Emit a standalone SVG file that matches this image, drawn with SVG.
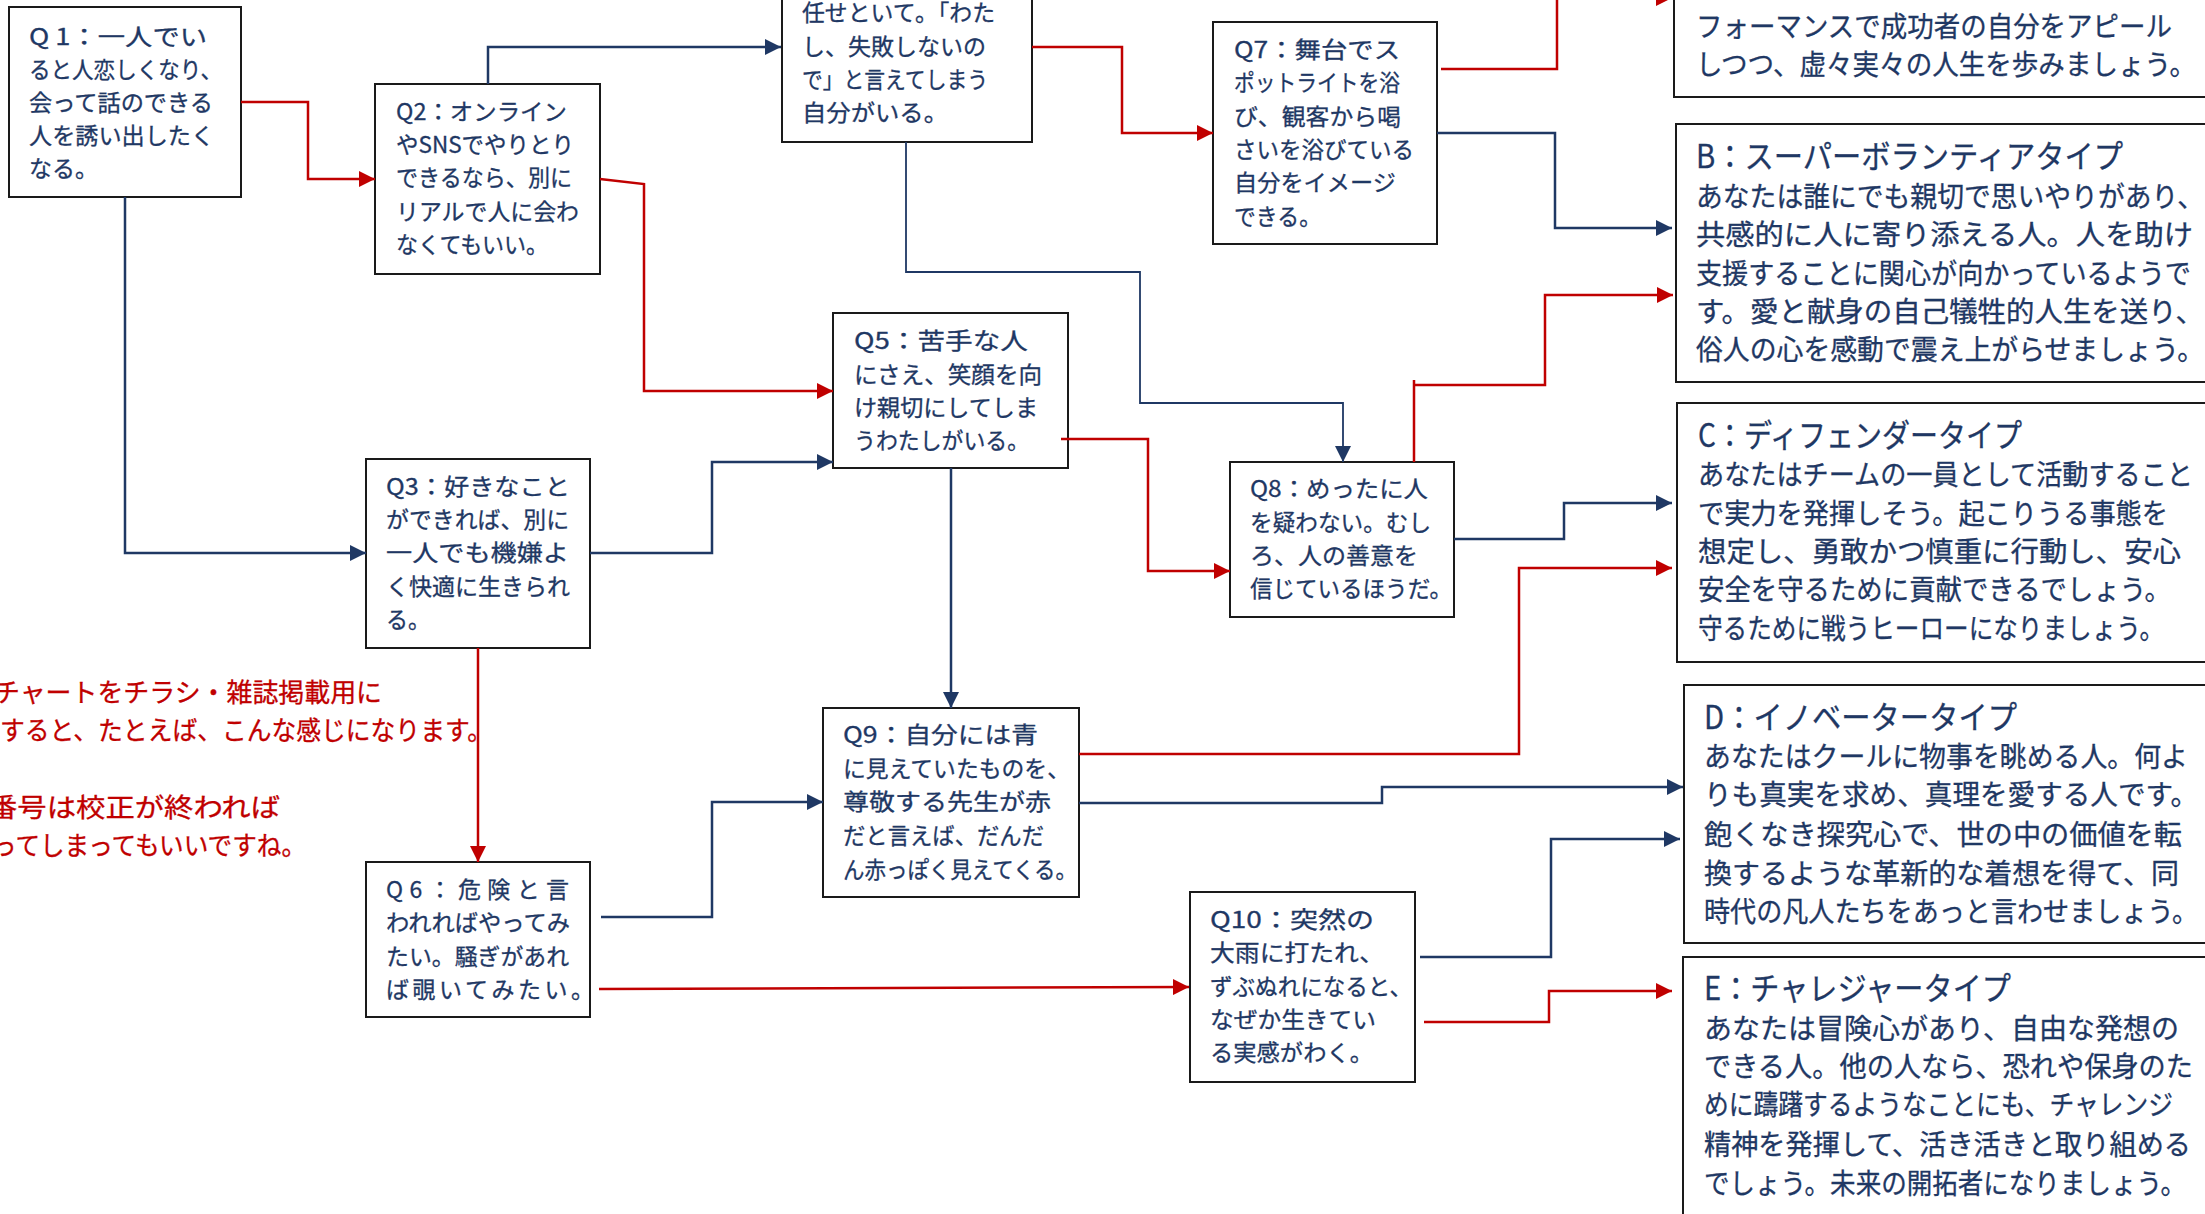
<svg xmlns="http://www.w3.org/2000/svg" width="2205" height="1214" viewBox="0 0 2205 1214">
<style>
.box{fill:#fff;stroke:#1a1a1a;stroke-width:2}
text{font-family:"Noto Sans CJK JP","Noto Sans",sans-serif;fill:#1F3864;stroke:#1F3864;stroke-width:0.3}
.q{font-size:23px}
.r{font-size:28px}
.t{font-size:32px}
.note{font-size:26px;fill:#C00000;stroke:#C00000}
.cb{fill:none;stroke:#1F3864;stroke-width:2.5;marker-end:url(#mb)}
.cr{fill:none;stroke:#C00000;stroke-width:2.5;marker-end:url(#mr)}
.thin{stroke-width:1.8}
</style>
<defs>
<marker id="mb" markerUnits="userSpaceOnUse" markerWidth="16" markerHeight="16" refX="16" refY="8" orient="auto"><path d="M0,0L16,8L0,16z" fill="#1F3864"/></marker>
<marker id="mr" markerUnits="userSpaceOnUse" markerWidth="16" markerHeight="16" refX="16" refY="8" orient="auto"><path d="M0,0L16,8L0,16z" fill="#C00000"/></marker>
</defs>
<rect width="2205" height="1214" fill="#fff"/>

<g id="q1">
<rect class="box" x="9" y="7" width="232" height="190"/>
<text class="q" x="29" y="45" textLength="178" lengthAdjust="spacingAndGlyphs">Q 1：一人でい</text>
<text class="q" x="29" y="78" textLength="193" lengthAdjust="spacingAndGlyphs">ると人恋しくなり、</text>
<text class="q" x="29" y="111" textLength="184" lengthAdjust="spacingAndGlyphs">会って話のできる</text>
<text class="q" x="29" y="144" textLength="185" lengthAdjust="spacingAndGlyphs">人を誘い出したく</text>
<text class="q" x="29" y="177" textLength="69" lengthAdjust="spacingAndGlyphs">なる。</text>
</g>

<g id="q2">
<rect class="box" x="375" y="84" width="225" height="190"/>
<text class="q" x="396" y="120" textLength="171" lengthAdjust="spacingAndGlyphs">Q2：オンライン</text>
<text class="q" x="396" y="153" textLength="178" lengthAdjust="spacingAndGlyphs">やSNSでやりとり</text>
<text class="q" x="396" y="186" textLength="176" lengthAdjust="spacingAndGlyphs">できるなら、別に</text>
<text class="q" x="396" y="220" textLength="183" lengthAdjust="spacingAndGlyphs">リアルで人に会わ</text>
<text class="q" x="396" y="253" textLength="152" lengthAdjust="spacingAndGlyphs">なくてもいい。</text>
</g>

<g id="q3">
<rect class="box" x="366" y="459" width="224" height="189"/>
<text class="q" x="386" y="495" textLength="184" lengthAdjust="spacingAndGlyphs">Q3：好きなこと</text>
<text class="q" x="386" y="528" textLength="183" lengthAdjust="spacingAndGlyphs">ができれば、別に</text>
<text class="q" x="386" y="561" textLength="183" lengthAdjust="spacingAndGlyphs">一人でも機嫌よ</text>
<text class="q" x="386" y="595" textLength="184" lengthAdjust="spacingAndGlyphs">く快適に生きられ</text>
<text class="q" x="386" y="628" textLength="44" lengthAdjust="spacingAndGlyphs">る。</text>
</g>

<g id="q4">
<rect class="box" x="782" y="-120" width="250" height="262"/>
<text class="q" x="802" y="21" textLength="193" lengthAdjust="spacingAndGlyphs">任せといて。「わた</text>
<text class="q" x="802" y="55" textLength="184" lengthAdjust="spacingAndGlyphs">し、失敗しないの</text>
<text class="q" x="802" y="88" textLength="186" lengthAdjust="spacingAndGlyphs">で」と言えてしまう</text>
<text class="q" x="802" y="121" textLength="146" lengthAdjust="spacingAndGlyphs">自分がいる。</text>
</g>

<g id="q5">
<rect class="box" x="833" y="313" width="235" height="155"/>
<text class="q" x="854" y="349" textLength="174" lengthAdjust="spacingAndGlyphs">Q5：苦手な人</text>
<text class="q" x="854" y="383" textLength="188" lengthAdjust="spacingAndGlyphs">にさえ、笑顔を向</text>
<text class="q" x="854" y="416" textLength="184" lengthAdjust="spacingAndGlyphs">け親切にしてしま</text>
<text class="q" x="854" y="449" textLength="175" lengthAdjust="spacingAndGlyphs">うわたしがいる。</text>
</g>

<g id="q6">
<rect class="box" x="366" y="862" width="224" height="155"/>
<text class="q" x="386" y="898" textLength="183" lengthAdjust="spacing">Q6：危険と言</text>
<text class="q" x="386" y="931" textLength="184" lengthAdjust="spacingAndGlyphs">われればやってみ</text>
<text class="q" x="386" y="965" textLength="183" lengthAdjust="spacingAndGlyphs">たい。騒ぎがあれ</text>
<text class="q" x="386" y="998" textLength="208" lengthAdjust="spacing">ば覗いてみたい。</text>
</g>

<g id="q7">
<rect class="box" x="1213" y="22" width="224" height="222"/>
<text class="q" x="1234" y="58" textLength="166" lengthAdjust="spacingAndGlyphs">Q7：舞台でス</text>
<text class="q" x="1234" y="91" textLength="166" lengthAdjust="spacingAndGlyphs">ポットライトを浴</text>
<text class="q" x="1234" y="125" textLength="167" lengthAdjust="spacingAndGlyphs">び、観客から喝</text>
<text class="q" x="1234" y="158" textLength="180" lengthAdjust="spacingAndGlyphs">さいを浴びている</text>
<text class="q" x="1234" y="191" textLength="162" lengthAdjust="spacingAndGlyphs">自分をイメージ</text>
<text class="q" x="1234" y="225" textLength="87" lengthAdjust="spacingAndGlyphs">できる。</text>
</g>

<g id="q8">
<rect class="box" x="1230" y="462" width="224" height="155"/>
<text class="q" x="1250" y="497" textLength="178" lengthAdjust="spacingAndGlyphs">Q8：めったに人</text>
<text class="q" x="1250" y="531" textLength="181" lengthAdjust="spacingAndGlyphs">を疑わない。むし</text>
<text class="q" x="1250" y="564" textLength="168" lengthAdjust="spacingAndGlyphs">ろ、人の善意を</text>
<text class="q" x="1250" y="597" textLength="202" lengthAdjust="spacingAndGlyphs">信じているほうだ。</text>
</g>

<g id="q9">
<rect class="box" x="823" y="708" width="256" height="189"/>
<text class="q" x="843" y="743" textLength="195" lengthAdjust="spacingAndGlyphs">Q9：自分には青</text>
<text class="q" x="843" y="777" textLength="227" lengthAdjust="spacingAndGlyphs">に見えていたものを、</text>
<text class="q" x="843" y="810" textLength="208" lengthAdjust="spacingAndGlyphs">尊敬する先生が赤</text>
<text class="q" x="843" y="844" textLength="201" lengthAdjust="spacingAndGlyphs">だと言えば、だんだ</text>
<text class="q" x="843" y="878" textLength="234" lengthAdjust="spacingAndGlyphs">ん赤っぽく見えてくる。</text>
</g>

<g id="q10">
<rect class="box" x="1190" y="892" width="225" height="190"/>
<text class="q" x="1210" y="928" textLength="164" lengthAdjust="spacingAndGlyphs">Q10：突然の</text>
<text class="q" x="1210" y="961" textLength="174" lengthAdjust="spacingAndGlyphs">大雨に打たれ、</text>
<text class="q" x="1210" y="995" textLength="202" lengthAdjust="spacingAndGlyphs">ずぶぬれになると、</text>
<text class="q" x="1210" y="1028" textLength="166" lengthAdjust="spacingAndGlyphs">なぜか生きてい</text>
<text class="q" x="1210" y="1061" textLength="163" lengthAdjust="spacingAndGlyphs">る実感がわく。</text>
</g>

<g id="rA">
<rect class="box" x="1674" y="-60" width="560" height="157"/>
<text class="r" x="1696" y="37" textLength="476" lengthAdjust="spacingAndGlyphs">フォーマンスで成功者の自分をアピール</text>
<text class="r" x="1696" y="75" textLength="500" lengthAdjust="spacingAndGlyphs">しつつ、虚々実々の人生を歩みましょう。</text>
</g>

<g id="rB">
<rect class="box" x="1676" y="124" width="560" height="258"/>
<text class="t" x="1696" y="168" textLength="427" lengthAdjust="spacingAndGlyphs">B：スーパーボランティアタイプ</text>
<text class="r" x="1696" y="207" textLength="508" lengthAdjust="spacingAndGlyphs">あなたは誰にでも親切で思いやりがあり、</text>
<text class="r" x="1696" y="245" textLength="497" lengthAdjust="spacingAndGlyphs">共感的に人に寄り添える人。人を助け</text>
<text class="r" x="1696" y="284" textLength="495" lengthAdjust="spacingAndGlyphs">支援することに関心が向かっているようで</text>
<text class="r" x="1696" y="322" textLength="508" lengthAdjust="spacingAndGlyphs">す。愛と献身の自己犠牲的人生を送り、</text>
<text class="r" x="1696" y="360" textLength="508" lengthAdjust="spacingAndGlyphs">俗人の心を感動で震え上がらせましょう。</text>
</g>

<g id="rC">
<rect class="box" x="1677" y="403" width="560" height="259"/>
<text class="t" x="1698" y="447" textLength="324" lengthAdjust="spacingAndGlyphs">C：ディフェンダータイプ</text>
<text class="r" x="1698" y="485" textLength="495" lengthAdjust="spacingAndGlyphs">あなたはチームの一員として活動すること</text>
<text class="r" x="1698" y="524" textLength="470" lengthAdjust="spacingAndGlyphs">で実力を発揮しそう。起こりうる事態を</text>
<text class="r" x="1698" y="562" textLength="483" lengthAdjust="spacingAndGlyphs">想定し、勇敢かつ慎重に行動し、安心</text>
<text class="r" x="1698" y="600" textLength="473" lengthAdjust="spacingAndGlyphs">安全を守るために貢献できるでしょう。</text>
<text class="r" x="1698" y="639" textLength="466" lengthAdjust="spacingAndGlyphs">守るために戦うヒーローになりましょう。</text>
</g>

<g id="rD">
<rect class="box" x="1684" y="685" width="560" height="258"/>
<text class="t" x="1704" y="729" textLength="313" lengthAdjust="spacingAndGlyphs">D：イノベータータイプ</text>
<text class="r" x="1704" y="767" textLength="484" lengthAdjust="spacingAndGlyphs">あなたはクールに物事を眺める人。何よ</text>
<text class="r" x="1704" y="805" textLength="494" lengthAdjust="spacingAndGlyphs">りも真実を求め、真理を愛する人です。</text>
<text class="r" x="1704" y="845" textLength="478" lengthAdjust="spacingAndGlyphs">飽くなき探究心で、世の中の価値を転</text>
<text class="r" x="1704" y="884" textLength="475" lengthAdjust="spacingAndGlyphs">換するような革新的な着想を得て、同</text>
<text class="r" x="1704" y="922" textLength="494" lengthAdjust="spacingAndGlyphs">時代の凡人たちをあっと言わせましょう。</text>
</g>

<g id="rE">
<rect class="box" x="1683" y="957" width="560" height="280"/>
<text class="t" x="1704" y="1000" textLength="307" lengthAdjust="spacingAndGlyphs">E：チャレジャータイプ</text>
<text class="r" x="1704" y="1039" textLength="475" lengthAdjust="spacingAndGlyphs">あなたは冒険心があり、自由な発想の</text>
<text class="r" x="1704" y="1077" textLength="489" lengthAdjust="spacingAndGlyphs">できる人。他の人なら、恐れや保身のた</text>
<text class="r" x="1704" y="1115" textLength="469" lengthAdjust="spacingAndGlyphs">めに躊躇するようなことにも、チャレンジ</text>
<text class="r" x="1704" y="1155" textLength="487" lengthAdjust="spacingAndGlyphs">精神を発揮して、活き活きと取り組める</text>
<text class="r" x="1704" y="1194" textLength="482" lengthAdjust="spacingAndGlyphs">でしょう。未来の開拓者になりましょう。</text>
</g>

<g id="note">
<text class="note" x="-6" y="702" textLength="388" lengthAdjust="spacingAndGlyphs">チャートをチラシ・雑誌掲載用に</text>
<text class="note" x="0" y="740" textLength="492" lengthAdjust="spacingAndGlyphs">すると、たとえば、こんな感じになります。</text>
<text class="note" x="-12" y="817" textLength="292" lengthAdjust="spacingAndGlyphs">番号は校正が終われば</text>
<text class="note" x="-8" y="855" textLength="314" lengthAdjust="spacingAndGlyphs">ってしまってもいいですね。</text>
</g>

<g id="connectors">
<path class="cr" d="M241,102H308V179H375"/>
<path class="cb" d="M125,197V553H366"/>
<path class="cb" d="M488,84V47H781"/>
<path class="cr" d="M600,179L644,184V391H833"/>
<path class="cb" d="M590,553H712V462H833"/>
<path class="cr" d="M478,648V862"/>
<path class="cb" d="M951,468V708"/>
<path class="cb" d="M601,917H712V802H823"/>
<path class="cr" d="M599,989L1189,987"/>
<path class="cr" d="M1032,47H1122V133H1213"/>
<path class="cb thin" d="M906,142V272H1140V403H1343V462"/>
<path class="cr" d="M1061,439H1148V571H1230"/>
<path class="cr" d="M1441,69H1557V-2H1672"/>
<path class="cb" d="M1437,133H1555V228H1672"/>
<path class="cr" d="M1414,462V380M1414,385H1545V295H1673"/>
<path class="cb" d="M1454,539H1564V503H1672"/>
<path class="cr" d="M1079,754H1519V568H1672"/>
<path class="cb" d="M1079,803H1382V787H1683"/>
<path class="cb" d="M1420,957H1551V839H1680"/>
<path class="cr" d="M1424,1022H1549V991H1672"/>
</g>
</svg>
